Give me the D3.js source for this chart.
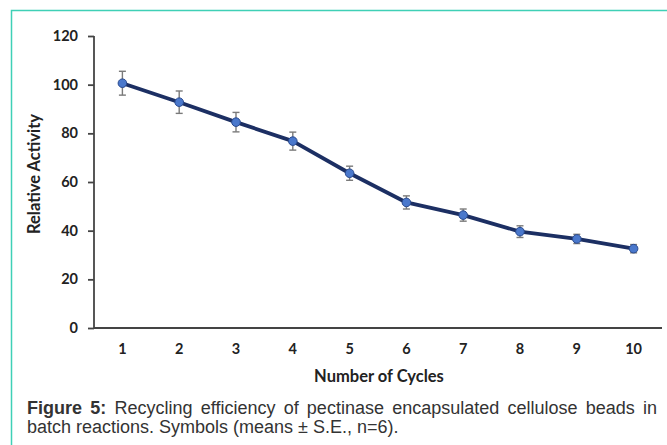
<!DOCTYPE html>
<html>
<head>
<meta charset="utf-8">
<script src="https://cdn.jsdelivr.net/npm/d3@7"></script>
<style>
  body { margin: 0; background: #fff; }
  svg { display: block; }
  .tick text { font-family: Lato, 'Open Sans', sans-serif; font-weight: bold; font-size: 14.5px; fill: #222; }
  .label { font-family: Lato, 'Open Sans', sans-serif; font-weight: bold; font-size: 16.5px; fill: #222; }
  .caption { font-family: 'Liberation Sans', Arial, sans-serif; font-size: 18px; fill: #333; }
</style>
</head>
<body>
<svg width="667" height="445"></svg>
<script>
  const cycles = [1, 2, 3, 4, 5, 6, 7, 8, 9, 10];
  const activity = [100.6, 92.8, 84.6, 76.8, 63.6, 51.6, 46.4, 39.6, 36.6, 32.6];
  const stdErr = [4.9, 4.6, 4.0, 3.7, 2.9, 2.7, 2.5, 2.4, 1.9, 1.7];
  const yTicks = [0, 20, 40, 60, 80, 100, 120];

  const svg = d3.select('svg');

  // teal frame, top and left edge only
  svg.append('path')
    .attr('d', 'M11.5,445 V10.5 H667')
    .attr('fill', 'none')
    .attr('stroke', '#3fd0b6')
    .attr('stroke-width', 1.5);

  const plotLeft = 94, plotRight = 662, plotTop = 36, plotBottom = 328;

  const xScale = d3.scaleBand()
    .domain(cycles)
    .range([plotLeft, plotRight]);

  const yScale = d3.scaleLinear()
    .domain([0, 120])
    .range([plotBottom, plotTop]);

  const yAxis = svg.append('g')
    .attr('transform', `translate(${plotLeft}, 0)`)
    .call(d3.axisLeft(yScale).tickValues(yTicks).tickSize(6).tickPadding(10));

  const xAxis = svg.append('g')
    .attr('transform', `translate(0, ${plotBottom})`)
    .call(d3.axisBottom(xScale).tickSize(0).tickPadding(16));

  svg.selectAll('.domain, .tick line')
    .attr('stroke', '#444')
    .attr('stroke-width', 1.8);
  yAxis.select('.domain').attr('d', `M0,${plotTop}V${plotBottom}`);
  xAxis.select('.domain').attr('d', `M${plotLeft},0H${plotRight}`);

  const cx = (d, i) => xScale(cycles[i]) + xScale.bandwidth() / 2;

  // error bars
  const errs = svg.append('g')
    .selectAll('g')
    .data(activity)
    .enter()
    .append('g')
    .attr('stroke', '#7a7a7a')
    .attr('stroke-width', 1.4);

  errs.append('line')
    .attr('x1', cx).attr('x2', cx)
    .attr('y1', (d, i) => yScale(d + stdErr[i]))
    .attr('y2', (d, i) => yScale(d - stdErr[i]));
  errs.append('line')
    .attr('x1', (d, i) => cx(d, i) - 3.5).attr('x2', (d, i) => cx(d, i) + 3.5)
    .attr('y1', (d, i) => yScale(d + stdErr[i]))
    .attr('y2', (d, i) => yScale(d + stdErr[i]));
  errs.append('line')
    .attr('x1', (d, i) => cx(d, i) - 3.5).attr('x2', (d, i) => cx(d, i) + 3.5)
    .attr('y1', (d, i) => yScale(d - stdErr[i]))
    .attr('y2', (d, i) => yScale(d - stdErr[i]));

  const line = d3.line()
    .x(cx)
    .y((d) => yScale(d));

  svg.append('path')
    .datum(activity)
    .attr('d', line)
    .attr('fill', 'none')
    .attr('stroke', '#1c2f63')
    .attr('stroke-width', 3.8)
    .attr('stroke-linejoin', 'round');

  svg.append('g')
    .selectAll('circle')
    .data(activity)
    .enter()
    .append('circle')
    .attr('cx', cx)
    .attr('cy', (d) => yScale(d))
    .attr('r', 4.3)
    .attr('fill', '#4a78cc')
    .attr('stroke', '#2a4a8e')
    .attr('stroke-width', 1);

  svg.append('text')
    .attr('class', 'label')
    .attr('x', 379)
    .attr('y', 382)
    .attr('text-anchor', 'middle')
    .text('Number of Cycles');

  svg.append('text')
    .attr('class', 'label')
    .attr('transform', 'translate(40, 174) rotate(-90)')
    .attr('text-anchor', 'middle')
    .text('Relative Activity');

  // caption, first line justified by spreading the words
  const capWords = [
    { t: 'Figure', b: true }, { t: '5:', b: true },
    { t: 'Recycling' }, { t: 'efficiency' }, { t: 'of' }, { t: 'pectinase' },
    { t: 'encapsulated' }, { t: 'cellulose' }, { t: 'beads' }, { t: 'in' }
  ];
  const capLeft = 27, capRight = 657;
  const cap1 = svg.append('text')
    .attr('class', 'caption')
    .attr('y', 414);
  const spans = capWords.map((w) => cap1.append('tspan')
    .attr('font-weight', w.b ? 'bold' : null)
    .text(w.t));
  const widths = spans.map((s) => s.node().getComputedTextLength());
  const gap = (capRight - capLeft - d3.sum(widths)) / (capWords.length - 1);
  let xPos = capLeft;
  spans.forEach((s, i) => {
    s.attr('x', xPos);
    xPos += widths[i] + gap;
  });

  svg.append('text')
    .attr('class', 'caption')
    .attr('x', capLeft)
    .attr('y', 433)
    .text('batch reactions. Symbols (means \u00b1 S.E., n=6).');
</script>
</body>
</html>
